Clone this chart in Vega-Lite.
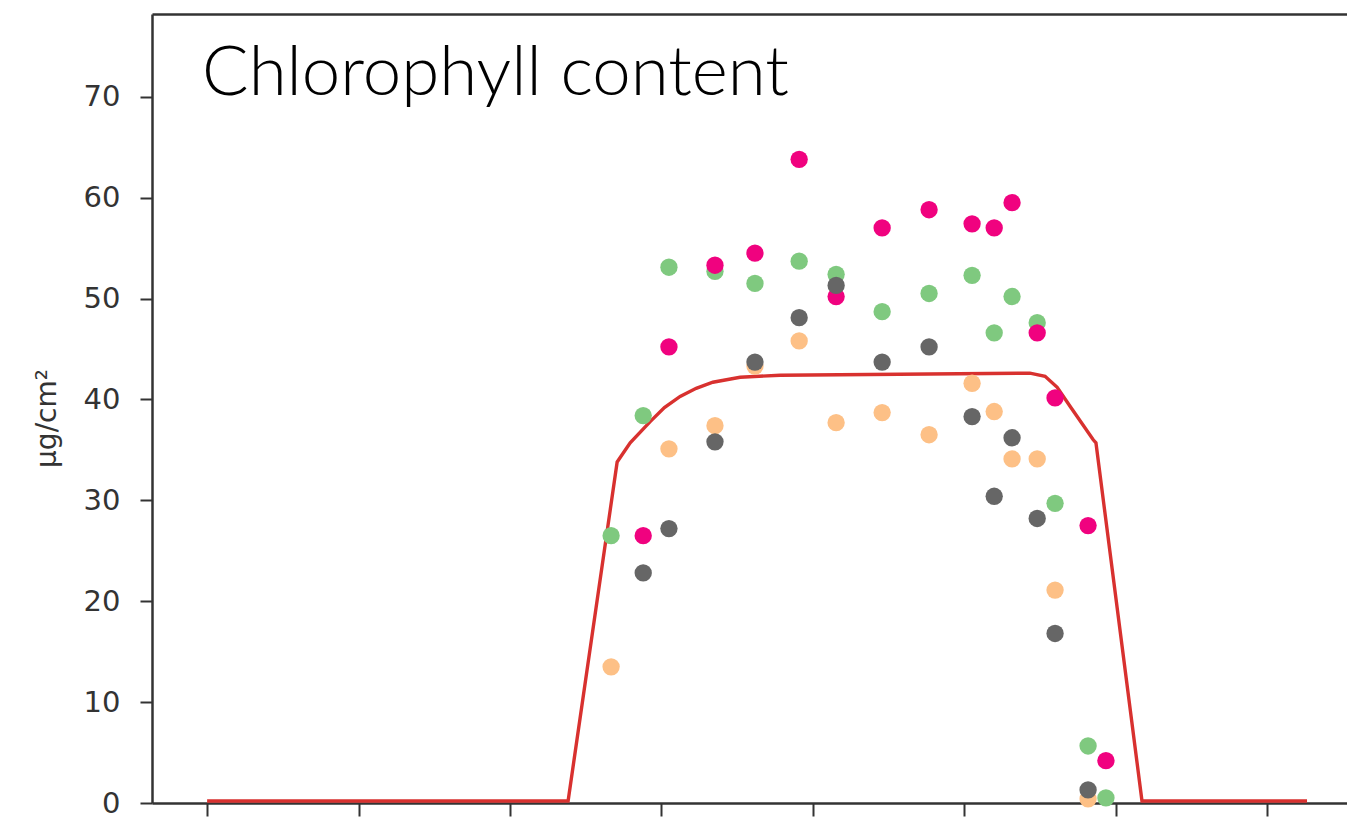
{
  "$schema": "https://vega.github.io/schema/vega-lite/v6.json",
  "autosize": "none",
  "width": 1195,
  "height": 789,
  "padding": {"left": 152, "top": 14, "right": 0, "bottom": 18},
  "background": "white",
  "config": {"view": {"stroke": null}, "axis": {"grid": false}},
  "title": {
    "text": "Chlorophyll content",
    "anchor": "start",
    "frame": "group",
    "orient": "top",
    "baseline": "alphabetic",
    "offset": 0,
    "dx": 50,
    "dy": 150,
    "font": "Lato",
    "fontSize": 69,
    "fontWeight": 300,
    "color": "#000000"
  },
  "datasets": {
    "obs": [
      {"day": 133.4, "value": 26.5, "series": "green"},
      {"day": 144.0, "value": 38.4, "series": "green"},
      {"day": 152.5, "value": 53.1, "series": "green"},
      {"day": 167.7, "value": 52.7, "series": "green"},
      {"day": 180.9, "value": 51.5, "series": "green"},
      {"day": 195.5, "value": 53.7, "series": "green"},
      {"day": 207.7, "value": 52.4, "series": "green"},
      {"day": 222.9, "value": 48.7, "series": "green"},
      {"day": 238.4, "value": 50.5, "series": "green"},
      {"day": 252.6, "value": 52.3, "series": "green"},
      {"day": 259.9, "value": 46.6, "series": "green"},
      {"day": 265.8, "value": 50.2, "series": "green"},
      {"day": 274.1, "value": 47.6, "series": "green"},
      {"day": 280.0, "value": 29.7, "series": "green"},
      {"day": 290.9, "value": 5.65, "series": "green"},
      {"day": 296.8, "value": 0.5, "series": "green"},
      {"day": 144.0, "value": 26.5, "series": "pink"},
      {"day": 152.5, "value": 45.2, "series": "pink"},
      {"day": 167.7, "value": 53.3, "series": "pink"},
      {"day": 180.9, "value": 54.5, "series": "pink"},
      {"day": 195.5, "value": 63.8, "series": "pink"},
      {"day": 207.7, "value": 50.2, "series": "pink"},
      {"day": 222.9, "value": 57.0, "series": "pink"},
      {"day": 238.4, "value": 58.8, "series": "pink"},
      {"day": 252.6, "value": 57.4, "series": "pink"},
      {"day": 259.9, "value": 57.0, "series": "pink"},
      {"day": 265.8, "value": 59.5, "series": "pink"},
      {"day": 274.1, "value": 46.6, "series": "pink"},
      {"day": 280.0, "value": 40.15, "series": "pink"},
      {"day": 290.9, "value": 27.5, "series": "pink"},
      {"day": 296.8, "value": 4.2, "series": "pink"},
      {"day": 133.4, "value": 13.5, "series": "orange"},
      {"day": 152.5, "value": 35.1, "series": "orange"},
      {"day": 167.7, "value": 37.4, "series": "orange"},
      {"day": 180.9, "value": 43.3, "series": "orange"},
      {"day": 195.5, "value": 45.8, "series": "orange"},
      {"day": 207.7, "value": 37.7, "series": "orange"},
      {"day": 222.9, "value": 38.7, "series": "orange"},
      {"day": 238.4, "value": 36.5, "series": "orange"},
      {"day": 252.6, "value": 41.6, "series": "orange"},
      {"day": 259.9, "value": 38.8, "series": "orange"},
      {"day": 265.8, "value": 34.1, "series": "orange"},
      {"day": 274.1, "value": 34.1, "series": "orange"},
      {"day": 280.0, "value": 21.1, "series": "orange"},
      {"day": 290.9, "value": 0.4, "series": "orange"},
      {"day": 144.0, "value": 22.8, "series": "gray"},
      {"day": 152.5, "value": 27.2, "series": "gray"},
      {"day": 167.7, "value": 35.8, "series": "gray"},
      {"day": 180.9, "value": 43.7, "series": "gray"},
      {"day": 195.5, "value": 48.1, "series": "gray"},
      {"day": 207.7, "value": 51.3, "series": "gray"},
      {"day": 222.9, "value": 43.7, "series": "gray"},
      {"day": 238.4, "value": 45.2, "series": "gray"},
      {"day": 252.6, "value": 38.3, "series": "gray"},
      {"day": 259.9, "value": 30.4, "series": "gray"},
      {"day": 265.8, "value": 36.2, "series": "gray"},
      {"day": 274.1, "value": 28.2, "series": "gray"},
      {"day": 280.0, "value": 16.8, "series": "gray"},
      {"day": 290.9, "value": 1.3, "series": "gray"}
    ],
    "model": [
      {"day": 0, "value": 0.2},
      {"day": 119.2, "value": 0.2},
      {"day": 135.4, "value": 33.8},
      {"day": 139.7, "value": 35.7},
      {"day": 146.3, "value": 37.8},
      {"day": 151.0, "value": 39.2},
      {"day": 156.2, "value": 40.3},
      {"day": 161.5, "value": 41.1},
      {"day": 167.0, "value": 41.7},
      {"day": 176.0, "value": 42.2},
      {"day": 189.2, "value": 42.4},
      {"day": 271.7, "value": 42.6},
      {"day": 276.7, "value": 42.3},
      {"day": 280.7, "value": 41.2},
      {"day": 285.0, "value": 39.3},
      {"day": 292.6, "value": 36.0},
      {"day": 293.5, "value": 35.7},
      {"day": 308.7, "value": 0.2},
      {"day": 363.2, "value": 0.2}
    ]
  },
  "layer": [
    {
      "data": {"name": "model"},
      "mark": {"type": "line", "color": "#d8312f", "strokeWidth": 3.4, "clip": true},
      "encoding": {
        "x": {
          "field": "day", "type": "quantitative",
          "scale": {"domain": [-18.2, 376.4], "nice": false, "zero": false},
          "axis": {
            "orient": "bottom", "title": null, "labels": false,
            "values": [0, 50, 100, 150, 200, 250, 300, 350],
            "tickSize": 13, "tickWidth": 2, "tickColor": "#333333",
            "domainColor": "#333333", "domainWidth": 2.5
          }
        },
        "y": {
          "field": "value", "type": "quantitative",
          "scale": {"domain": [0, 78.2], "nice": false},
          "axis": {
            "title": "µg/cm²", "titleFont": "DejaVu Sans", "titleFontSize": 28,
            "titleFontWeight": "normal", "titleColor": "#333333", "titlePadding": 22,
            "titleY": 404,
            "values": [0, 10, 20, 30, 40, 50, 60, 70],
            "labelFont": "DejaVu Sans", "labelFontSize": 29, "labelColor": "#333333",
            "labelPadding": 20,
            "tickSize": 12, "tickWidth": 2, "tickColor": "#333333",
            "domainColor": "#333333", "domainWidth": 2.5
          }
        }
      }
    },
    {
      "data": {"name": "obs"},
      "mark": {"type": "point", "filled": true, "opacity": 1, "size": 300, "shape": "circle"},
      "encoding": {
        "x": {
          "field": "day", "type": "quantitative",
          "axis": {
            "orient": "top", "title": null, "labels": false, "ticks": false,
            "domainColor": "#333333", "domainWidth": 2.5
          }
        },
        "y": {"field": "value", "type": "quantitative"},
        "color": {
          "field": "series", "type": "nominal", "legend": null,
          "scale": {
            "domain": ["green", "pink", "orange", "gray"],
            "range": ["#7fc97f", "#f0027f", "#fdc086", "#666666"]
          }
        }
      }
    }
  ],
  "resolve": {"axis": {"x": "independent"}}
}
